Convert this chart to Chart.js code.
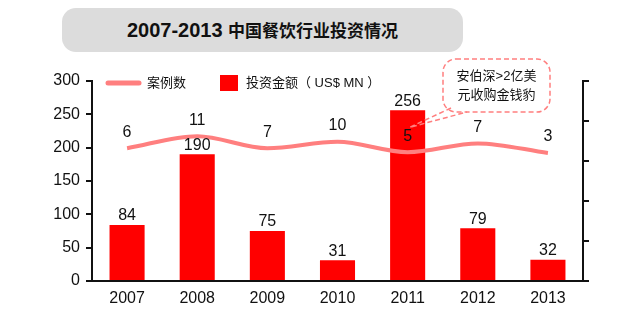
<!DOCTYPE html>
<html>
<head>
<meta charset="utf-8">
<script src="https://cdn.jsdelivr.net/npm/chart.js@4.4.1/dist/chart.umd.min.js"></script>
<style>
    body { margin: 0; background: #fff; }
    #wrap { position: relative; width: 640px; height: 326px; }
    #title {
        position: absolute; left: 62px; top: 8px; width: 401px; height: 44px;
        background: #dcdcdc; border-radius: 14px;
        font: bold 20px "Liberation Sans", "Noto Sans CJK SC", sans-serif;
        color: #111; text-align: center; line-height: 44px;
    }
    #title .cn { font-size: 17px; }
    canvas { position: absolute; left: 0; top: 0; }
</style>
</head>
<body>
<div id="wrap">
    <div id="title">2007-2013 <span class="cn">中国餐饮行业投资情况</span></div>
    <canvas id="chart" width="640" height="326"></canvas>
</div>
<script>
// Données
const years = ["2007", "2008", "2009", "2010", "2011", "2012", "2013"];
const investment = [84, 190, 75, 31, 256, 79, 32]; // US$ MN
const dealCounts = [6, 11, 7, 10, 5, 7, 3]; // nombre de cas
// position de la courbe sur l'axe droit (non proportionnelle aux nombres)
const lineLevel = [166, 181, 166, 174, 161, 172, 160];
const leftTicks = { min: 0, max: 300, step: 50 };
const rightTicks = { min: 0, max: 250, step: 50 };
const noteLines = ["安伯深>2亿美", "元收购金钱豹"];
const noteYear = "2011";

const FONT = '"Liberation Sans", "Noto Sans CJK SC", sans-serif';
const LINE_COLOR = "#ff7f7f";
const BAR_COLOR = "#ff0000";

// Étiquettes + légende + bulle
const extras = {
    id: "extras",
    afterDatasetsDraw(chart) {
        const ctx = chart.ctx;
        ctx.save();
        ctx.fillStyle = "#111";
        ctx.font = "16px " + FONT;
        ctx.textAlign = "center";
        ctx.textBaseline = "middle";

        const bars = chart.getDatasetMeta(1).data;
        bars.forEach((b, i) => {
            ctx.fillText(investment[i], b.x, b.y - 9);
        });
        const pts = chart.getDatasetMeta(0).data;
        pts.forEach((p, i) => {
            ctx.fillText(dealCounts[i], p.x, p.y - 16);
        });

        // légende
        ctx.strokeStyle = LINE_COLOR;
        ctx.lineWidth = 5;
        ctx.lineCap = "round";
        ctx.beginPath();
        ctx.moveTo(108, 83);
        ctx.lineTo(139, 83);
        ctx.stroke();
        ctx.font = "13px " + FONT;
        ctx.textAlign = "left";
        ctx.fillText("案例数", 147, 83);
        ctx.fillStyle = BAR_COLOR;
        ctx.fillRect(220, 75, 18, 16);
        ctx.fillStyle = "#111";
        ctx.fillText("投资金额（ US$ MN ）", 246, 83);

        // bulle
        const idx = years.indexOf(noteYear);
        const tip = bars[idx];
        const tx = tip.x + 2, ty = tip.y + 17;
        const bx = 443, by = 59, bw = 107, bh = 53, r = 13;
        ctx.strokeStyle = LINE_COLOR;
        ctx.lineWidth = 1.5;
        ctx.lineCap = "butt";
        ctx.setLineDash([5, 3]);
        ctx.fillStyle = "#fff";
        ctx.beginPath();
        ctx.roundRect(bx, by, bw, bh, r);
        ctx.fill();
        ctx.stroke();
        ctx.beginPath();
        ctx.moveTo(bx + 8, by + bh - 4);
        ctx.lineTo(tx, ty);
        ctx.lineTo(bx + 24, by + bh);
        ctx.stroke();
        ctx.setLineDash([]);
        ctx.fillStyle = "#111";
        ctx.font = "13px " + FONT;
        ctx.textAlign = "center";
        ctx.fillText(noteLines[0], bx + bw / 2, by + 17);
        ctx.fillText(noteLines[1], bx + bw / 2, by + 36);
        ctx.restore();
    }
};

new Chart(document.getElementById("chart"), {
    data: {
        labels: years,
        datasets: [
            {
                type: "line",
                label: "案例数",
                data: lineLevel,
                yAxisID: "y1",
                borderColor: LINE_COLOR,
                borderWidth: 4,
                pointRadius: 0,
                tension: 0.45,
                cubicInterpolationMode: "monotone",
                order: 0,
            },
            {
                type: "bar",
                label: "投资金额（US$ MN）",
                data: investment,
                yAxisID: "y",
                backgroundColor: BAR_COLOR,
                barPercentage: 0.5,
                categoryPercentage: 1,
                order: 1,
            },
        ],
    },
    options: {
        responsive: false,
        animation: false,
        layout: { padding: { top: 81, left: 0, right: 0, bottom: 0 } },
        plugins: { legend: { display: false }, tooltip: { enabled: false } },
        scales: {
            x: {
                grid: { display: false, drawTicks: false },
                border: { color: "#111", width: 2 },
                ticks: { color: "#111", font: { size: 16, family: FONT }, padding: 8 },
                afterFit(s) { s.height = 45; },
            },
            y: {
                position: "left",
                min: leftTicks.min,
                max: leftTicks.max,
                ticks: { stepSize: leftTicks.step, color: "#111", font: { size: 16, family: FONT }, padding: 6 },
                grid: { drawOnChartArea: false, color: "#111", lineWidth: 2, tickLength: 6 },
                border: { color: "#111", width: 2 },
                afterFit(s) { s.width = 92; },
            },
            y1: {
                position: "right",
                min: rightTicks.min,
                max: rightTicks.max,
                ticks: { stepSize: rightTicks.step, display: false },
                grid: { drawOnChartArea: false, color: "#111", lineWidth: 2, tickLength: 6 },
                border: { color: "#111", width: 2 },
                afterFit(s) { s.width = 57; },
            },
        },
    },
    plugins: [extras],
});
</script>
</body>
</html>
